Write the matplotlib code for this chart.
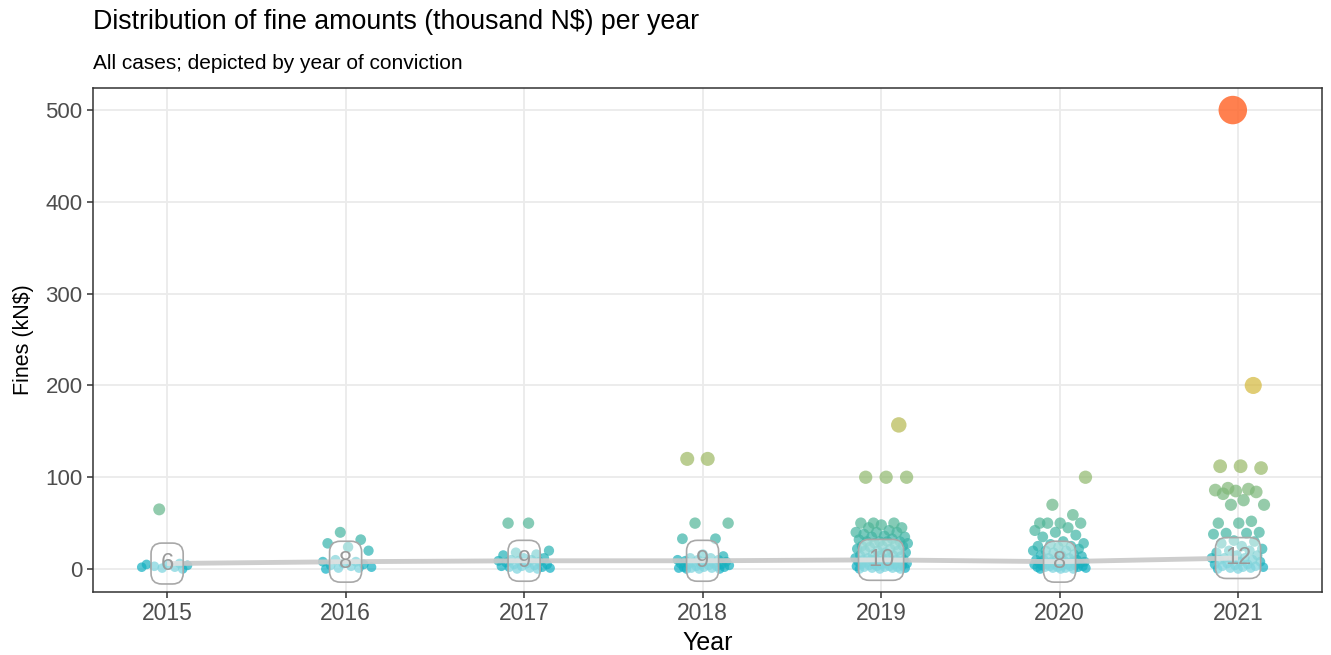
import matplotlib.pyplot as plt
from matplotlib.colors import LinearSegmentedColormap
import numpy as np

plt.rcParams['font.family'] = ['Liberation Sans', 'DejaVu Sans']

# fines per case (thousand N$), grouped by year of conviction
years = [2015, 2016, 2017, 2018, 2019, 2020, 2021]
fines_2015 = [65, 6, 5, 5, 4, 3, 2, 2, 1, 0]
fines_2016 = [40, 32, 28, 24, 20, 10, 8, 8, 6, 5, 4, 3, 2, 1, 1, 0]
fines_2017 = [50, 50, 20, 18, 16, 15, 12, 12, 10, 10, 9, 9, 8, 7, 6, 5, 5, 4, 3, 3,
              2, 2, 1, 1, 0, 0]
fines_2018 = [120, 120, 50, 50, 33, 33, 16, 14, 12, 12, 10, 10, 10, 9, 8, 8, 7, 6, 6,
              5, 5, 5, 4, 4, 3, 3, 2, 2, 2, 1, 1, 1, 0, 0, 0]
fines_2019 = [157, 100, 100, 100, 50, 50, 50, 48, 45, 45, 42, 40, 40, 40, 38, 36, 35,
              35, 33, 32, 30, 30, 30, 30, 28, 28, 26, 25, 25, 25, 24, 22, 22, 20, 20,
              20, 18, 18, 16, 15, 15, 15, 14, 12, 12, 12, 11, 10, 10, 10, 10, 10, 9, 8,
              8, 8, 7, 6, 6, 5, 5, 5, 5, 4, 4, 3, 3, 3, 2, 2, 2, 1, 1, 1, 0, 0, 0]
fines_2020 = [100, 70, 59, 50, 50, 50, 50, 45, 42, 40, 37, 35, 30, 28, 27, 25, 25, 24,
              22, 20, 20, 20, 18, 16, 15, 15, 14, 12, 12, 10, 10, 10, 10, 9, 8, 8, 8,
              7, 6, 6, 5, 5, 5, 5, 4, 4, 4, 3, 3, 3, 2, 2, 2, 2, 1, 1, 1, 0, 0, 0]
fines_2021 = [500, 200, 112, 112, 110, 88, 87, 86, 85, 84, 82, 75, 70, 70, 52, 50, 50,
              40, 39, 39, 38, 31, 30, 28, 25, 22, 20, 20, 18, 15, 15, 12, 12, 12, 10,
              10, 10, 8, 8, 6, 5, 5, 4, 3, 3, 2, 2, 1, 1, 0, 0]
medians = [6, 8, 9, 9, 10, 8, 12]

fines = [fines_2015, fines_2016, fines_2017, fines_2018, fines_2019, fines_2020, fines_2021]

cmap = LinearSegmentedColormap.from_list(
    'fines', [(0.0, '#0fb0c4'), (0.1, '#52b596'), (0.2, '#8fb86c'),
              (0.4, '#d4b83a'), (1.0, '#ff6a30')])

fig = plt.figure(figsize=(13.31, 6.55), dpi=100)
ax = fig.add_axes([0.0699, 0.0962, 0.9233, 0.7694])

# jitter: golden-ratio sequence, one phase per year
golden = 0.6180339887
phases = [0.79, 0.13, 0.75, 0.2, 0.86, 0.52, 0.50]
for yr, vals, ph in zip(years, fines, phases):
    vals = np.sort(np.array(vals, dtype=float))
    n = len(vals)
    off = ((np.arange(n) * golden + ph) % 1.0 - 0.5) * 0.30
    diam_px = 9.5 + 0.038 * vals
    sizes = (diam_px * 0.72) ** 2
    alpha = np.where(vals >= 400, 0.85, 0.7)
    ax.scatter(yr + off, vals, s=sizes, c=cmap(vals / 500), alpha=alpha,
               edgecolors='none', zorder=3)

ax.plot(years, medians, color='#c8c8c8', lw=3.5, alpha=0.9, zorder=4,
        solid_capstyle='butt')
for yr, m in zip(years, medians):
    ax.text(yr, m, str(m), ha='center', va='center', fontsize=17, color='#9a9a9a',
            zorder=5,
            bbox=dict(boxstyle='round,pad=0.4,rounding_size=0.45', fc=(1, 1, 1, 0.45),
                      ec='#a8a8a8', lw=1.2))

ax.set_xlim(2014.585, 2021.47)
ax.set_ylim(-25, 524)
ax.set_xticks(years)
ax.set_yticks([0, 100, 200, 300, 400, 500])
ax.grid(True, color='#ebebeb', lw=1.3, zorder=0)
ax.set_axisbelow(True)
for sp in ax.spines.values():
    sp.set_color('#333333')
    sp.set_linewidth(1.1)
ax.tick_params(axis='both', labelsize=16.5, colors='#333333', labelcolor='#4d4d4d',
               length=4, width=1.1)
ax.tick_params(axis='y', labelsize=16)

ax.set_xlabel('Year', fontsize=18, labelpad=4)
ax.set_ylabel('Fines (kN$)', fontsize=15.5, labelpad=8)

fig.text(0.0699, 0.955, 'Distribution of fine amounts (thousand N$) per year',
         fontsize=19.3, ha='left', va='baseline')
fig.text(0.0699, 0.895, 'All cases; depicted by year of conviction',
         fontsize=15, ha='left', va='baseline')

fig.savefig('out.png', dpi=100)
